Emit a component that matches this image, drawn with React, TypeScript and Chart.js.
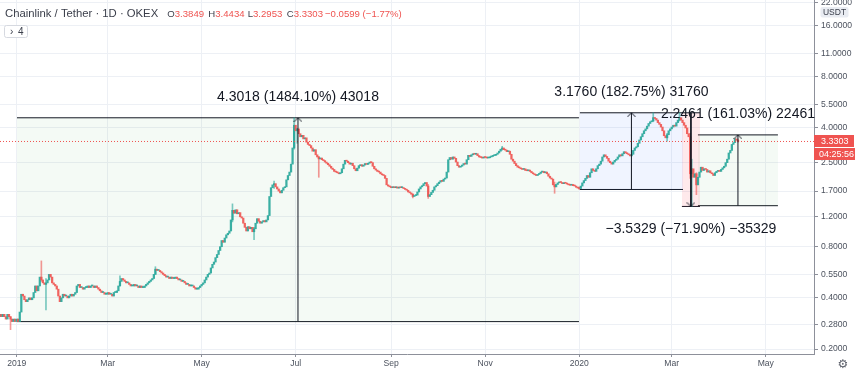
import React, { useEffect, useRef } from "react";
import { Chart, registerables } from "chart.js";

Chart.register(...registerables);

// Day index: 0 = 1 Jan 2019. First candle sits on FIRST_DAY, one candle per day.
const FIRST_DAY = -11;

// Daily closes (USDT)
const closes: number[] = [
  0.32, 0.31, 0.32, 0.31, 0.30, 0.32, 0.31, 0.30, 0.29, 0.30, 0.29, 0.30,
  0.29, 0.33, 0.42, 0.41, 0.39, 0.38, 0.39, 0.40, 0.39, 0.40,
  0.43, 0.47, 0.44, 0.47, 0.53, 0.51, 0.49, 0.48, 0.49, 0.51,
  0.55, 0.53, 0.49, 0.48, 0.47, 0.45, 0.41, 0.38, 0.40, 0.42,
  0.41, 0.41, 0.40, 0.41, 0.42, 0.41, 0.42, 0.43, 0.47, 0.48,
  0.46, 0.46, 0.45, 0.46, 0.46, 0.47, 0.46, 0.47, 0.47, 0.46,
  0.47, 0.46, 0.45, 0.44, 0.43, 0.43, 0.42, 0.42, 0.43, 0.42,
  0.42, 0.41, 0.43, 0.43, 0.44, 0.47, 0.50, 0.52, 0.51, 0.50,
  0.49, 0.49, 0.48, 0.47, 0.47, 0.48, 0.47, 0.47, 0.46, 0.47,
  0.46, 0.46, 0.47, 0.48, 0.49, 0.50, 0.51, 0.52, 0.55, 0.59,
  0.58, 0.58, 0.57, 0.56, 0.55, 0.54, 0.53, 0.53, 0.52, 0.53,
  0.52, 0.52, 0.53, 0.52, 0.51, 0.51, 0.50, 0.50, 0.49, 0.48,
  0.48, 0.47, 0.47, 0.47, 0.46, 0.45, 0.45, 0.46, 0.47, 0.48,
  0.49, 0.51, 0.53, 0.55, 0.56, 0.60, 0.63, 0.65, 0.69, 0.72,
  0.76, 0.80, 0.87, 0.85, 0.90, 0.94, 0.96, 0.99, 1.15, 1.31,
  1.26, 1.32, 1.25, 1.27, 1.20, 1.18, 1.10, 1.04, 0.99, 1.05,
  1.02, 1.04, 0.98, 1.02, 1.10, 1.17, 1.13, 1.10, 1.12, 1.14,
  1.12, 1.15, 1.22, 1.58, 1.78, 1.85, 1.88, 1.80, 1.75, 1.70,
  1.66, 1.72, 1.78, 1.80, 1.98, 2.10, 2.20, 2.45, 3.05, 4.15,
  3.85, 3.95, 3.70, 3.55, 3.62, 3.45, 3.50, 3.30, 3.20, 3.15,
  3.05, 2.92, 2.98, 2.78, 2.70, 2.63, 2.66, 2.60, 2.57, 2.52,
  2.48, 2.43, 2.38, 2.32, 2.28, 2.22, 2.20, 2.18, 2.15, 2.18,
  2.30, 2.45, 2.58, 2.55, 2.50, 2.45, 2.48, 2.40, 2.30, 2.24,
  2.32, 2.40, 2.43, 2.38, 2.42, 2.47, 2.44, 2.48, 2.52, 2.50,
  2.38, 2.30, 2.26, 2.22, 2.20, 2.15, 2.12, 2.10, 2.02, 1.85,
  1.82, 1.80, 1.78, 1.79, 1.78, 1.80, 1.77, 1.79, 1.78, 1.78,
  1.76, 1.74, 1.72, 1.68, 1.66, 1.63, 1.58, 1.60, 1.61, 1.68,
  1.75, 1.80, 1.83, 1.88, 1.91, 1.82, 1.58, 1.62, 1.67, 1.72,
  1.80, 1.83, 1.88, 1.92, 1.96, 1.94, 2.00, 2.03, 2.20, 2.60,
  2.68, 2.62, 2.70, 2.65, 2.52, 2.40, 2.35, 2.38, 2.42, 2.47,
  2.45, 2.60, 2.76, 2.72, 2.78, 2.82, 2.80, 2.82, 2.75, 2.70,
  2.68, 2.66, 2.70, 2.68, 2.66, 2.67, 2.70, 2.72, 2.75, 2.76,
  2.80, 2.85, 2.92, 3.00, 3.05, 2.98, 2.96, 2.90, 2.92, 2.80,
  2.62, 2.55, 2.47, 2.40, 2.35, 2.33, 2.30, 2.28, 2.30, 2.25,
  2.24, 2.26, 2.22, 2.18, 2.15, 2.12, 2.10, 2.13, 2.16, 2.20,
  2.22, 2.18, 2.20, 2.15, 2.08, 2.03, 2.00, 1.85, 1.80, 1.86,
  1.90, 1.92, 1.91, 1.88, 1.90, 1.89, 1.87, 1.85, 1.84, 1.86,
  1.83, 1.82, 1.79, 1.77, 1.76, 1.82, 1.90, 1.96, 2.02, 2.10,
  2.05, 2.18, 2.30, 2.25, 2.22, 2.30, 2.40, 2.45, 2.55, 2.70,
  2.78, 2.72, 2.65, 2.55, 2.50, 2.45, 2.52, 2.58, 2.62, 2.70,
  2.78, 2.74, 2.82, 2.90, 2.85, 2.82, 2.78, 2.74, 2.80, 2.95,
  3.05, 3.10, 3.25, 3.40, 3.55, 3.70, 3.85, 3.95, 4.10, 4.25,
  4.35, 4.40, 4.60, 4.55, 4.45, 4.30, 4.20, 4.05, 3.85, 3.60,
  3.50, 3.65, 3.85, 3.95, 4.05, 4.15, 4.10, 4.30, 4.45, 4.60,
  4.45, 4.30, 4.15, 4.00, 3.70, 3.55, 2.15, 2.30, 2.05, 2.15,
  1.85, 2.05, 2.20, 2.35, 2.25, 2.30, 2.28, 2.20, 2.24, 2.18,
  2.15, 2.10, 2.18, 2.22, 2.25, 2.22, 2.28, 2.33, 2.38, 2.50,
  2.62, 2.85, 2.95, 3.20, 3.28, 3.45, 3.3849, 3.3303,
];
const firstOpen = 0.31;

// Visible wicks (day, high, low)
const wickDays = [-4, 1, 16, 19, 67, 90, 140, 154, 167, 180, 182, 196, 257, 267, 315, 349, 365, 413, 422, 430, 437, 438, 441, 468];
const wickHighs = [0.31, 0.30, 0.66, 0.52, 0.54, 0.61, 1.43, 1.04, 1.95, 4.5917, 3.98, 2.72, 1.64, 1.86, 3.12, 1.92, 1.80, 4.9139, 3.72, 4.9136, 3.72, 2.62, 2.18, 3.4434];
const wickLows = [0.26, 0.2899, 0.50, 0.34, 0.47, 0.55, 1.12, 0.88, 1.76, 3.0, 3.25, 2.05, 1.55, 1.54, 2.96, 1.65, 1.7379, 4.35, 3.35, 4.40, 2.02, 1.3807, 1.62, 3.2953];

// Axis ticks
const monthTickDays = [0, 59, 120, 181, 243, 304, 365, 425, 486];
const monthTickLabels = ["2019", "Mar", "May", "Jul", "Sep", "Nov", "2020", "Mar", "May"];
const priceTicks = [0.2, 0.28, 0.4, 0.55, 0.8, 1.2, 1.7, 2.5, 4, 5.5, 8, 11, 16, 22];

// Price-range drawings
const rangeStart = [0.2, 365.4, 431.6, 442];
const rangeEnd = [364.8, 432.3, 443.3, 493.9];
const rangeFrom = [0.28986, 1.7379, 4.9136, 1.3948];
const rangeTo = [4.5917, 4.9139, 1.3807, 3.6409];
const rangeText = [
  "4.3018 (1484.10%) 43018",
  "3.1760 (182.75%) 31760",
  "\u22123.5329 (\u221271.90%) \u221235329",
  "2.2461 (161.03%) 22461",
];
const rangeFill = [
  "rgba(76,175,80,0.06)",
  "rgba(41,98,255,0.07)",
  "rgba(242,54,69,0.11)",
  "rgba(76,175,80,0.06)",
];

const lastPrice = 3.3303;
const countdown = "04:25:56";
const headerTitle = "Chainlink / Tether \u00b7 1D \u00b7 OKEX";
const headerLetters = ["O", "H", "L", "C"];
const headerValues = ["3.3849", "3.4434", "3.2953", "3.3303"];
const headerChange = "\u22120.0599 (\u22121.77%)";

const X_MIN = -10.83;
const X_MAX = 517.3;
const Y_MIN = 0.1869;
const Y_MAX = 22.66;

const INK = "#131722";
const UP = "rgba(38,166,154,0.9)";
const DOWN = "rgba(239,83,80,0.9)";
const UP_W = "rgba(38,166,154,0.6)";
const DOWN_W = "rgba(239,83,80,0.6)";
const RED = "#ef5350";
const GRID = "#edf0f5";
const AXIS_TEXT = "#4c525e";
const FONT = '"Liberation Sans", Arial, sans-serif';

function zeroPad(s: any) {
  s.paddingTop = 0;
  s.paddingBottom = 0;
  s.paddingLeft = 0;
  s.paddingRight = 0;
}

export default function App() {
  const ref = useRef<HTMLCanvasElement>(null);

  useEffect(() => {
    const canvas = ref.current;
    if (!canvas) return;

    const chev = document.createElement("canvas");
    chev.width = 9;
    chev.height = 10;
    const cc = chev.getContext("2d")!;
    cc.strokeStyle = INK;
    cc.lineWidth = 1;
    cc.beginPath();
    cc.moveTo(0.5, 9);
    cc.lineTo(4.5, 5);
    cc.lineTo(8.5, 9);
    cc.stroke();

    const opens = closes.map((c, i) => (i === 0 ? firstOpen : closes[i - 1]));
    const bodies = closes.map((c, i) => ({ x: FIRST_DAY + i, y: [opens[i], c] }));
    const bodyColors = closes.map((c, i) => (c >= opens[i] ? UP : DOWN));
    const wicks = wickDays.map((d, k) => {
      const i = d - FIRST_DAY;
      const o = opens[i];
      const c = closes[i];
      return { x: d, y: [Math.min(wickLows[k], o, c), Math.max(wickHighs[k], o, c)] };
    });
    const wickColors = wickDays.map((d) => {
      const i = d - FIRST_DAY;
      return closes[i] >= opens[i] ? UP_W : DOWN_W;
    });

    const rangeSets: any[] = [];
    rangeText.forEach((_, k) => {
      const hi = Math.max(rangeFrom[k], rangeTo[k]);
      const lo = Math.min(rangeFrom[k], rangeTo[k]);
      const mid = (rangeStart[k] + rangeEnd[k]) / 2;
      rangeSets.push({
        type: "line",
        data: [
          { x: rangeStart[k], y: hi },
          { x: rangeEnd[k], y: hi },
        ],
        borderColor: INK,
        borderWidth: 1,
        pointRadius: 0,
        fill: "+1",
        backgroundColor: rangeFill[k],
        order: 20,
      });
      rangeSets.push({
        type: "line",
        data: [
          { x: rangeStart[k], y: lo },
          { x: rangeEnd[k], y: lo },
        ],
        borderColor: INK,
        borderWidth: 1,
        pointRadius: 0,
        fill: false,
        order: 20,
      });
      rangeSets.push({
        type: "line",
        data: [
          { x: mid, y: rangeFrom[k] },
          { x: mid, y: rangeTo[k] },
        ],
        borderColor: INK,
        borderWidth: 1,
        pointRadius: [0, 5],
        pointStyle: chev,
        pointRotation: rangeTo[k] >= rangeFrom[k] ? 0 : 180,
        fill: false,
        order: 1,
      });
    });

    const overlayPlugin = {
      id: "overlay",
      afterDatasetsDraw(chart: any) {
        const { ctx, scales } = chart;
        const xs = scales.x;
        const ys = scales.y;
        ctx.save();
        ctx.font = `14px ${FONT}`;
        ctx.fillStyle = INK;
        ctx.textAlign = "center";
        ctx.textBaseline = "alphabetic";
        rangeText.forEach((t, k) => {
          const mid = (rangeStart[k] + rangeEnd[k]) / 2;
          const px = xs.getPixelForValue(mid);
          const up = rangeTo[k] >= rangeFrom[k];
          const py = up
            ? ys.getPixelForValue(Math.max(rangeFrom[k], rangeTo[k])) - 17
            : ys.getPixelForValue(Math.min(rangeFrom[k], rangeTo[k])) + 27;
          ctx.fillText(t, px, py);
        });
        ctx.restore();
      },
      afterDraw(chart: any) {
        const { ctx, scales, chartArea } = chart;
        const ys = scales.y;
        ctx.save();
        // header
        ctx.textBaseline = "alphabetic";
        ctx.textAlign = "left";
        ctx.font = `11.3px ${FONT}`;
        ctx.fillStyle = "#3a3e4a";
        ctx.fillText(headerTitle, 5, 17);
        ctx.font = `9.6px ${FONT}`;
        const starts = [167.3, 208.3, 247.7, 286.7];
        headerLetters.forEach((l, k) => {
          ctx.fillStyle = "#3a3e4a";
          ctx.fillText(l, starts[k], 17);
          const w = ctx.measureText(l).width;
          ctx.fillStyle = RED;
          ctx.fillText(headerValues[k], starts[k] + w, 17);
        });
        ctx.fillStyle = RED;
        ctx.fillText(headerChange, 325, 17);

        // collapse button
        ctx.fillStyle = "#ffffff";
        ctx.strokeStyle = "#d6d9e0";
        ctx.lineWidth = 1;
        ctx.beginPath();
        (ctx as any).roundRect ? (ctx as any).roundRect(4.5, 25.5, 23, 12, 2) : ctx.rect(4.5, 25.5, 23, 12);
        ctx.fill();
        ctx.stroke();
        ctx.fillStyle = "#3a3e4a";
        ctx.font = `10px ${FONT}`;
        ctx.fillText("\u203a", 10, 35);
        ctx.fillText("4", 18, 35);

        // last price label
        const py = ys.getPixelForValue(lastPrice);
        const lx = chartArea.right;
        ctx.fillStyle = RED;
        ctx.fillRect(lx, Math.round(py) - 6, 40, 12);
        ctx.fillRect(lx, Math.round(py) + 7, 41, 12);
        ctx.fillStyle = "#ffffff";
        ctx.font = `9px ${FONT}`;
        ctx.textAlign = "left";
        ctx.textBaseline = "middle";
        ctx.fillText(lastPrice.toFixed(4), lx + 7, Math.round(py) + 0.5);
        ctx.fillText(countdown, lx + 5, Math.round(py) + 13.5);

        // currency label
        ctx.fillStyle = "#e9ecf2";
        ctx.beginPath();
        (ctx as any).roundRect ? (ctx as any).roundRect(820.5, 7, 28, 10.5, 2) : ctx.rect(820.5, 7, 28, 10.5);
        ctx.fill();
        ctx.fillStyle = "#3a3e4a";
        ctx.textAlign = "center";
        ctx.font = `8.5px ${FONT}`;
        ctx.fillText("USDT", 834.5, 12.5);

        // settings icon
        ctx.fillStyle = "#5d606b";
        ctx.font = `12px "DejaVu Sans", sans-serif`;
        ctx.fillText("\u2699", 843, 365);
        ctx.restore();
      },
    };

    const chart = new Chart(canvas, {
      type: "bar",
      data: {
        datasets: [
          ...rangeSets,
          {
            type: "line",
            data: [
              { x: X_MIN, y: lastPrice },
              { x: X_MAX, y: lastPrice },
            ],
            borderColor: RED,
            borderWidth: 1,
            borderDash: [1, 2],
            pointRadius: 0,
            fill: false,
            order: 2,
          },
          {
            type: "bar",
            data: wicks,
            backgroundColor: wickColors,
            barThickness: 1,
            grouped: false,
            order: 6,
          },
          {
            type: "bar",
            data: bodies,
            backgroundColor: bodyColors,
            barThickness: 1.6,
            minBarLength: 1,
            grouped: false,
            order: 5,
          },
        ] as any,
      },
      options: {
        animation: false,
        responsive: false,
        maintainAspectRatio: false,
        devicePixelRatio: 1,
        layout: { padding: 0, autoPadding: false } as any,
        events: [],
        plugins: {
          legend: { display: false },
          tooltip: { enabled: false },
          title: { display: false },
        },
        scales: {
          x: {
            type: "linear",
            position: "bottom",
            min: X_MIN,
            max: X_MAX,
            offset: false,
            afterFit(s: any) {
              s.height = 19;
              zeroPad(s);
            },
            afterBuildTicks(s: any) {
              s.ticks = monthTickDays.map((v) => ({ value: v }));
            },
            ticks: {
              autoSkip: false,
              maxRotation: 0,
              padding: 1,
              color: AXIS_TEXT,
              font: { family: FONT, size: 8.6 },
              callback: (_v: any, i: number) => monthTickLabels[i],
            },
            grid: { color: GRID, offset: false, tickLength: 3, tickColor: "#8d909a" } as any,
            border: { color: "#8d909a" },
          },
          y: {
            type: "logarithmic",
            position: "right",
            min: Y_MIN,
            max: Y_MAX,
            afterFit(s: any) {
              s.width = 46;
              zeroPad(s);
            },
            afterBuildTicks(s: any) {
              s.ticks = priceTicks.map((v) => ({ value: v }));
            },
            ticks: {
              autoSkip: false,
              padding: 3,
              color: AXIS_TEXT,
              font: { family: FONT, size: 8.6 },
              callback: (v: any) => Number(v).toFixed(4),
            },
            grid: { color: GRID, tickLength: 4, tickColor: "#8d909a" } as any,
            border: { color: "#8d909a" },
          },
        },
      } as any,
      plugins: [overlayPlugin],
    });

    return () => chart.destroy();
  }, []);

  return (
    <div style={{ position: "fixed", left: 0, top: 0, width: 860, height: 373, background: "#fff" }}>
      <canvas ref={ref} width={860} height={373} style={{ display: "block", width: 860, height: 373 }} />
    </div>
  );
}
